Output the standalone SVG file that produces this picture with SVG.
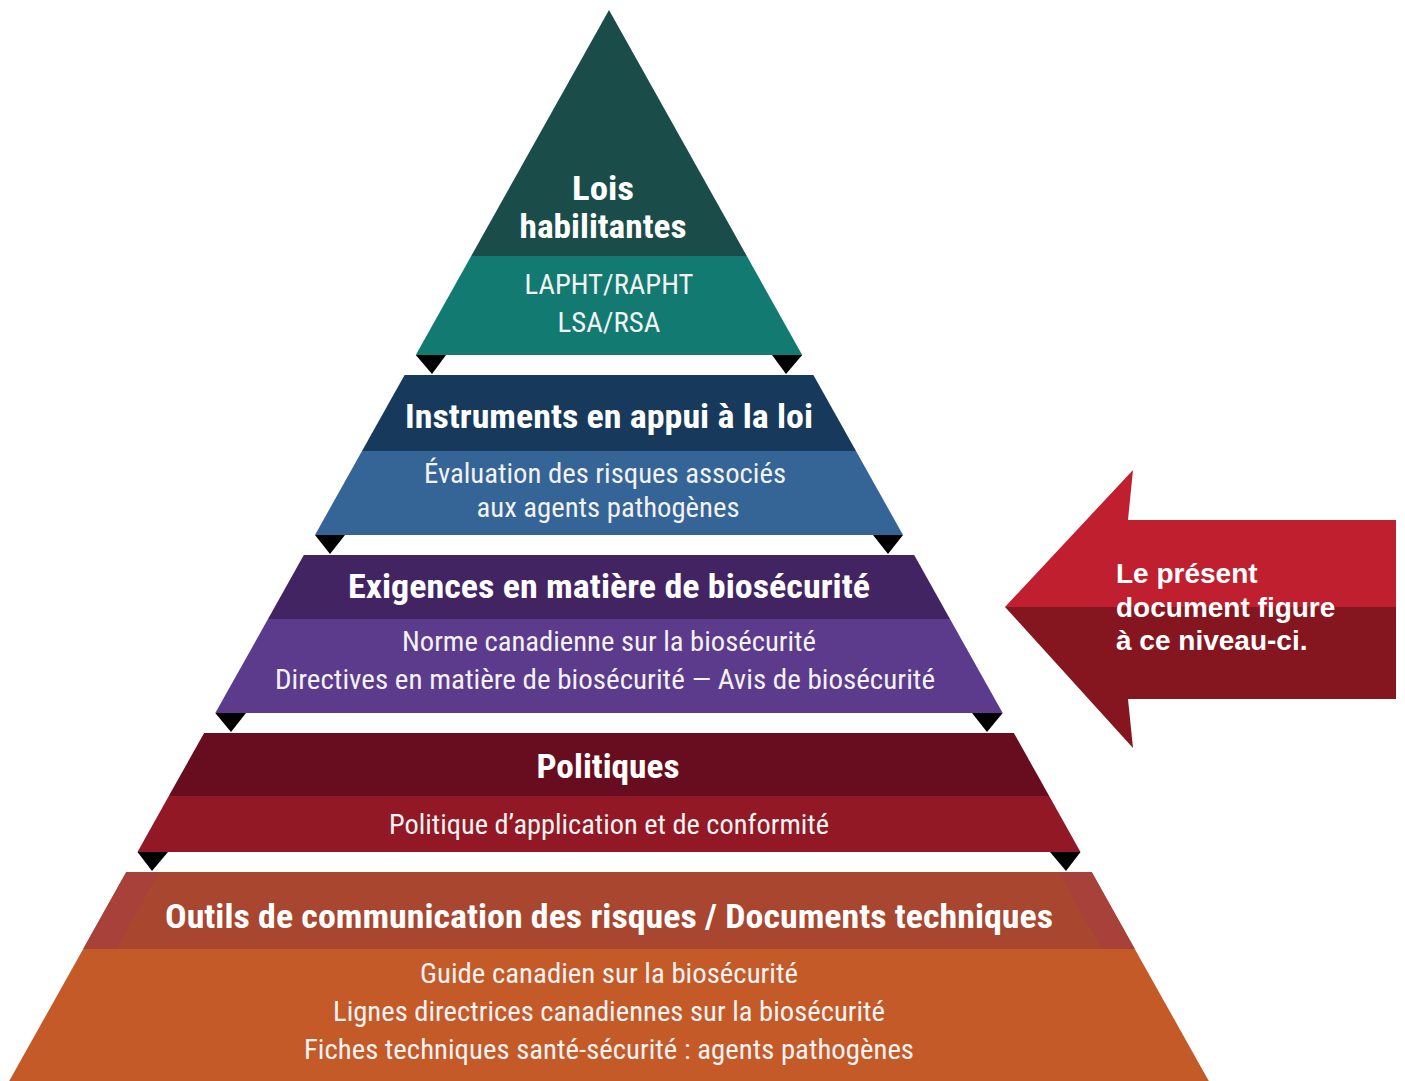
<svg xmlns="http://www.w3.org/2000/svg" width="1405" height="1081" viewBox="0 0 1405 1081">
<style>
.t{fill:#ffffff;font-family:"Liberation Sans Narrow","Roboto Condensed","DejaVu Sans Condensed","Liberation Sans",sans-serif;text-anchor:middle;}
.h{font-weight:bold;font-size:34px;}
.s{font-size:27px;fill:#f2f2f2;}
.a{fill:#ffffff;font-family:"Liberation Sans",Arial,sans-serif;font-weight:bold;font-size:28px;}
.tri{fill:#000000;}
</style>
<rect width="1405" height="1081" fill="#ffffff"/>
<g id="tier1">
<polygon points="609,10 746.8,256 471.2,256" fill="#1a4d4a"/>
<polygon points="471.2,256 746.8,256 802.2,355 415.8,355" fill="#137a72"/>
<text class="t h" x="603" y="200" textLength="62" lengthAdjust="spacingAndGlyphs">Lois</text>
<text class="t h" x="603" y="238" textLength="167" lengthAdjust="spacingAndGlyphs">habilitantes</text>
<text class="t s" x="609" y="294" textLength="169" lengthAdjust="spacingAndGlyphs">LAPHT/RAPHT</text>
<text class="t s" x="609" y="332" textLength="103" lengthAdjust="spacingAndGlyphs">LSA/RSA</text>
</g>
<g id="tier2">
<polygon points="404.6,375 813.4,375 856,451 362,451" fill="#173a5c"/>
<polygon points="362,451 856,451 903,535 315,535" fill="#356496"/>
<text class="t h" x="609" y="428" textLength="408" lengthAdjust="spacingAndGlyphs">Instruments en appui à la loi</text>
<text class="t s" x="605" y="483" textLength="362" lengthAdjust="spacingAndGlyphs">Évaluation des risques associés</text>
<text class="t s" x="608" y="517" textLength="263" lengthAdjust="spacingAndGlyphs">aux agents pathogènes</text>
</g>
<g id="tier3">
<polygon points="303.8,555 914.2,555 950,619 268,619" fill="#432463"/>
<polygon points="268,619 950,619 1002.7,713 215.3,713" fill="#5c3b8c"/>
<text class="t h" x="609" y="598" textLength="522" lengthAdjust="spacingAndGlyphs">Exigences en matière de biosécurité</text>
<text class="t s" x="609" y="651" textLength="414" lengthAdjust="spacingAndGlyphs">Norme canadienne sur la biosécurité</text>
<text class="t s" x="605" y="689" textLength="660" lengthAdjust="spacingAndGlyphs">Directives en matière de biosécurité — Avis de biosécurité</text>
</g>
<g id="tier4">
<polygon points="204.1,733 1013.9,733 1049.2,796 168.8,796" fill="#680d1f"/>
<polygon points="168.8,796 1049.2,796 1080.5,852 137.5,852" fill="#911824"/>
<text class="t h" x="608" y="778" textLength="143" lengthAdjust="spacingAndGlyphs">Politiques</text>
<text class="t s" x="609" y="834" textLength="440" lengthAdjust="spacingAndGlyphs">Politique d’application et de conformité</text>
</g>
<g id="tier5">
<polygon points="126.3,872 1091.7,872 1134.8,949 83.2,949" fill="#a8462f"/>
<polygon points="126.3,872 159,872 116,949 83.2,949" fill="#a8413a"/>
<polygon points="1059,872 1091.7,872 1134.8,949 1102,949" fill="#a8413a"/>
<polygon points="83.2,949 1134.8,949 1208.8,1081 9.2,1081" fill="#c55a29"/>
<text class="t h" x="609" y="928" textLength="888" lengthAdjust="spacingAndGlyphs">Outils de communication des risques / Documents techniques</text>
<text class="t s" x="609" y="983" textLength="378" lengthAdjust="spacingAndGlyphs">Guide canadien sur la biosécurité</text>
<text class="t s" x="609" y="1021" textLength="552" lengthAdjust="spacingAndGlyphs">Lignes directrices canadiennes sur la biosécurité</text>
<text class="t s" x="609" y="1059" textLength="610" lengthAdjust="spacingAndGlyphs">Fiches techniques santé-sécurité : agents pathogènes</text>
</g>
<g id="connectors">
<polygon class="tri" points="415.8,355 446,355 432,374"/>
<polygon class="tri" points="772,355 802.2,355 786,374"/>
<polygon class="tri" points="315,535 345,535 330,554"/>
<polygon class="tri" points="873,535 903,535 888,554"/>
<polygon class="tri" points="215.3,713 246,713 231,732"/>
<polygon class="tri" points="972,713 1002.7,713 987,732"/>
<polygon class="tri" points="137.5,852 168,852 152,871"/>
<polygon class="tri" points="1050,852 1080.5,852 1066,871"/>
</g>
<g id="arrow">
<polygon points="1005,607 1133,470 1128,520 1396,520 1396,607" fill="#bf1f2f"/>
<polygon points="1005,607 1396,607 1396,699 1128,699 1133,748" fill="#85161f"/>
<text class="a" x="1116" y="583">Le présent</text>
<text class="a" x="1116" y="617">document figure</text>
<text class="a" x="1116" y="650">à ce niveau-ci.</text>
</g>
</svg>
